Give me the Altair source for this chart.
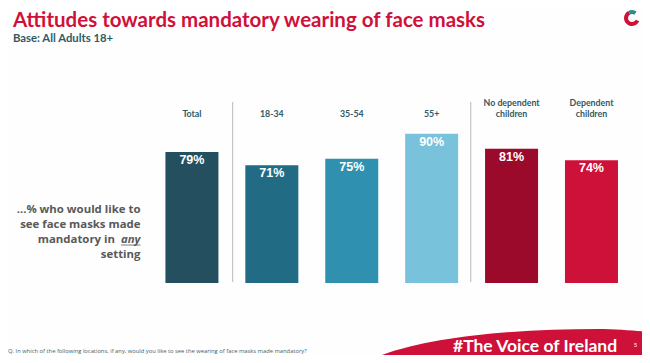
import altair as alt
import pandas as pd

categories = ["Total", "18-34", "35-54", "55+", "No dependent children", "Dependent children"]
values = [79, 71, 75, 90, 81, 74]
bar_colors = ["#234F5F", "#226B85", "#2F90B0", "#78C2DC", "#9B0A2A", "#CE1138"]
header_top = ["", "", "", "", "No dependent", "Dependent"]
header_bottom = ["Total", "18-34", "35-54", "55+", "children", "children"]
title_text = "Attitudes towards mandatory wearing of face masks"
base_text = "Base: All Adults 18+"
question_text = "Q. In which of the following locations, if any, would you like to see the wearing of face masks made mandatory?"
hashtag_text = "#The Voice of Ireland"

df = pd.DataFrame({"cat": categories, "value": values, "color": bar_colors,
                   "label": [f"{v}%" for v in values], "top": header_top, "bottom": header_bottom})

xs = alt.Scale(domain=categories, range=[144, 623.4], paddingInner=0.3367, paddingOuter=0.168)
ys = alt.Scale(domain=[0, 100], range=[275, 109.2])
X = alt.X("cat:N", scale=xs, axis=None, sort=categories)
Y = alt.Y("value:Q", scale=ys, axis=None)

bars = alt.Chart(df).mark_bar().encode(x=X, y=Y, y2=alt.Y2(datum=0), color=alt.Color("color:N", scale=None))
labels = alt.Chart(df).mark_text(font="Liberation Sans", fontWeight="bold", fontSize=12.5, color="white",
                                 baseline="top", dy=2).encode(x=X, y=Y, text="label:N")
head_style = dict(font="Lato", fontWeight="bold", fontSize=8.8, color="#2F5A66", baseline="middle")
heads_top = alt.Chart(df).mark_text(**head_style).encode(x=X, y=alt.value(95), text="top:N")
heads_bottom = alt.Chart(df).mark_text(**head_style).encode(x=X, y=alt.value(106), text="bottom:N")


def txt(s, x, y, **kw):
    return alt.Chart(pd.DataFrame({"t": [s]})).mark_text(**kw).encode(x=alt.value(x), y=alt.value(y), text="t:N")


def sep(x, y1, y2, color="#C4C4C4", w=1.2):
    return alt.Chart(pd.DataFrame({"a": [0]})).mark_rule(color=color, strokeWidth=w).encode(
        x=alt.value(x), y=alt.value(y1), y2=alt.value(y2))


side = dict(font="Open Sans", fontWeight="bold", fontSize=11.4, color="#595959", align="right", baseline="middle")
footer_path = "M355 355 C405 330 500 321 590 321 C610 321 630 323 642 324 L642 355 Z"
footer = alt.Chart(pd.DataFrame({"a": [0]})).mark_point(shape=footer_path, size=4, filled=True, opacity=1,
                                                       color="#CE1138", strokeWidth=0).encode(
    x=alt.value(0), y=alt.value(0))

logo_red = alt.Chart(pd.DataFrame({"a": [0]})).mark_arc(
    theta=2.0, theta2=5.8, radius=8, radius2=4, color="#CE1138").encode(x=alt.value(624), y=alt.value(10))
logo_teal = alt.Chart(pd.DataFrame({"a": [0]})).mark_arc(
    theta=5.8, theta2=6.9, radius=8, radius2=4, color="#2A8C8C").encode(x=alt.value(624), y=alt.value(10))

layers = [
    footer, sep(224.6, 94, 274), sep(462.7, 94, 274), bars, labels, heads_top, heads_bottom,
    txt(title_text, 5, 19, font="Lato", fontWeight="bold", fontSize=20.5, color="#D0103A", align="left", baseline="alphabetic"),
    txt(base_text, 5, 33.5, font="Lato", fontWeight="bold", fontSize=11.3, color="#2F5A66", align="left", baseline="alphabetic"),
    txt("...% who would like to", 132.5, 202, **side),
    txt("see face masks made", 132.5, 217, **side),
    txt("mandatory in", 107, 232, **side),
    txt("any", 132.5, 232, font="Open Sans", fontWeight="bold", fontStyle="italic", fontSize=11.4, color="#595959", align="right", baseline="middle"),
    alt.Chart(pd.DataFrame({"a": [0]})).mark_rule(color="#595959", strokeWidth=0.8).encode(
        x=alt.value(113), x2=alt.value(132.5), y=alt.value(237)),
    txt("setting", 132.5, 247, **side),
    txt(question_text, 0, 343, font="Open Sans", fontSize=5.8, color="#44606A", align="left", baseline="middle"),
    txt(hashtag_text, 445, 343.5, font="Lato", fontWeight="bold", fontSize=17.5, color="white", align="left", baseline="alphabetic"),
    txt("5", 627.5, 337, font="Lato", fontSize=6, color="white", align="center", baseline="middle"),
    logo_red, logo_teal,
]

chart = alt.layer(*layers).resolve_scale(color="independent").properties(
    width=634, height=347, padding=0, background="#FEFEFE",
    autosize=alt.AutoSizeParams(type="none")
).configure_view(stroke=None)

chart.save("out.html", embed_options={"renderer": "svg", "actions": False})
